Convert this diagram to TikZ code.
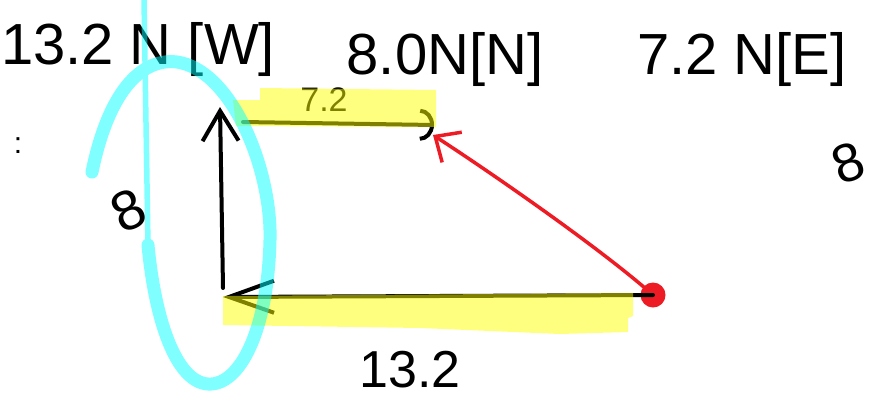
\documentclass[tikz,border=0pt]{standalone}
\usepackage{fontspec}
\setmainfont{Liberation Sans}
\usepackage{tikz}
\usetikzlibrary{arrows.meta}
\definecolor{ink}{HTML}{000000}
\definecolor{marker}{HTML}{FFFF00}
\definecolor{ring}{HTML}{00FFFF}
\definecolor{pen}{HTML}{ED1C24}

\begin{document}
\begin{tikzpicture}[x=1pt, y=-1pt,
  hand/.style={ink, inner sep=0pt, font=\fontsize{58}{58}\selectfont},
  stroke/.style={ink, line width=4pt, line cap=round, line join=round},
  redpen/.style={pen, line width=3.5pt, line cap=round, line join=round}]
  \useasboundingbox (0,0) rectangle (877,402);

  % Forces written on top
  \node[hand] (west) at (138,50) {13.2 N [W]};
  \node[hand] (north) at (445,60) {8.0N[N]};
  \node[hand] (east) at (742,60) {7.2 N[E]};
  \node[ink, inner sep=0pt, font=\fontsize{30}{30}\selectfont] (colon) at (18,146) {:};
  \node[hand, rotate=20, font=\fontsize{54}{54}\selectfont] (eightR) at (848,163) {8};
  \node[hand, rotate=25, font=\fontsize{56}{56}\selectfont] (eightL) at (128,210) {8};

  % Side lengths
  \node[ink, inner sep=0pt, font=\fontsize{34}{34}\selectfont] (short) at (324,100) {7.2};
  \node[ink, inner sep=0pt, font=\fontsize{52}{52}\selectfont] (long) at (410,370) {13.2};

  % End points
  \coordinate (tail) at (653,295);
  \coordinate (corner) at (223,297);
  \coordinate (base) at (223,288);
  \coordinate (top) at (220,107);
  \coordinate (start) at (243,122);
  \coordinate (head) at (434,125);
  \coordinate (redhead) at (433,135);

  % Red dot and resultant
  \fill[pen] (tail) circle (12.5);
  \draw[redpen, -{Straight Barb[length=20pt,width=36pt]}]
    (tail) .. controls (600,248) and (490,172) .. (redhead);

  % Vectors tip to tail
  \draw[stroke, -{Straight Barb[length=45pt,width=32pt]}] (tail) -- (corner);
  \draw[stroke, -{Straight Barb[length=30pt,width=36pt]}] (base) -- (top);
  \draw[stroke, -{Arc Barb[length=14pt,width=32pt]}] (start) -- (head);

  % Yellow marker -- over the ink, half see-through
  \fill[marker, opacity=0.5] (260,88) -- (436,90) -- (436,127) -- (236,126)
    -- (233,100) -- (260,100) -- cycle;
  \fill[marker, opacity=0.5] (223,296) -- (633,293) -- (633,316) -- (628,318)
    -- (628,332) -- (560,334) -- (420,328) -- (223,325) -- cycle;

  % Cyan loop round the west part
  \begin{scope}[transparency group, opacity=0.5]
    \draw[ring, line width=5.5pt] (144,0) -- (148,245);
    \draw[ring, line width=13pt, line cap=round]
      (92,172) .. controls (110,85) and (145,58) .. (177,62)
      .. controls (232,70) and (272,170) .. (270,240)
      .. controls (268,330) and (240,386) .. (208,384)
      .. controls (176,382) and (155,320) .. (148,245);
  \end{scope}
\end{tikzpicture}
\end{document}
